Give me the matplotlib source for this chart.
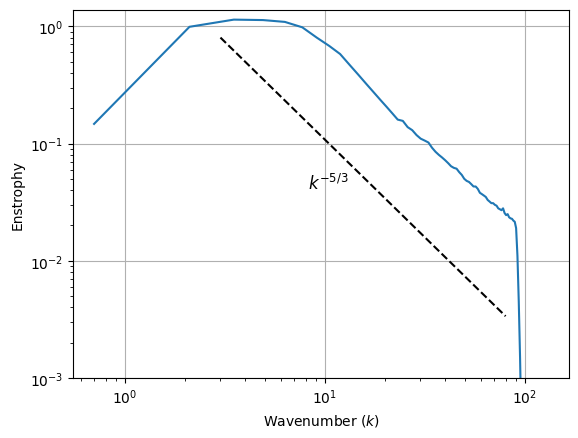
import numpy as np
import matplotlib
matplotlib.use("Agg")
import matplotlib.pyplot as plt

# Wavenumber bins
k = [0.7, 2.1, 3.5, 4.9, 6.3, 7.7, 9.1, 10.5, 11.9, 13.3,
     14.7, 16.1, 17.5, 18.9, 20.3, 21.7, 23.1, 24.5, 25.9, 27.3,
     28.7, 30.1, 31.5, 32.9, 34.3, 35.7, 37.1, 38.5, 39.9, 41.3,
     42.7, 44.1, 45.5, 46.9, 48.3, 49.7, 51.1, 52.5, 53.9, 55.3,
     56.7, 58.1, 59.5, 60.9, 62.3, 63.7, 65.1, 66.5, 67.9, 69.3,
     70.7, 72.1, 73.5, 74.9, 76.3, 77.7, 79.1, 80.5, 81.9, 83.3,
     84.7, 86.1, 87.5, 88.9, 90.3, 91.7, 93.1, 94.5, 95.9]

# Enstrophy spectrum values
enstrophy = [0.147, 0.99, 1.14, 1.13, 1.09, 0.98, 0.80, 0.68, 0.58, 0.467,
             0.385, 0.322, 0.274, 0.236, 0.206, 0.181, 0.160, 0.156, 0.138, 0.130,
             0.118, 0.110, 0.106, 0.102, 0.092, 0.085, 0.080, 0.076, 0.072, 0.068,
             0.064, 0.062, 0.061, 0.057, 0.054, 0.050, 0.048, 0.047, 0.045, 0.043,
             0.043, 0.041, 0.038, 0.037, 0.036, 0.035, 0.033, 0.032, 0.031, 0.031,
             0.030, 0.0295, 0.028, 0.0275, 0.027, 0.028, 0.0255, 0.0245, 0.025, 0.0235,
             0.023, 0.0228, 0.022, 0.0215, 0.019, 0.011, 0.0045, 0.0015, 0.0004]

# Reference -5/3 slope line
k_ref = np.array([3.0, 80.0])
ref_amp = 5.0
ref_label = r'$k^{-5/3}$'

fig = plt.figure(figsize=(5.78, 4.39), dpi=100)
ax = fig.add_axes([0.1268, 0.1367, 0.9844 - 0.1268, 0.9756 - 0.1367])

ax.loglog(k, enstrophy, color='#1f77b4', lw=1.5)
ax.loglog(k_ref, ref_amp * k_ref ** (-5.0 / 3.0), 'k--', lw=1.5)
ax.text(8.2, 0.041, ref_label, fontsize=12)

ax.set_xlim(0.551, 166)
ax.set_ylim(1e-3, 1.385)
ax.grid(True)
ax.set_xlabel('Wavenumber ($k$)')
ax.set_ylabel('Enstrophy')

fig.savefig('out.png', dpi=100)
